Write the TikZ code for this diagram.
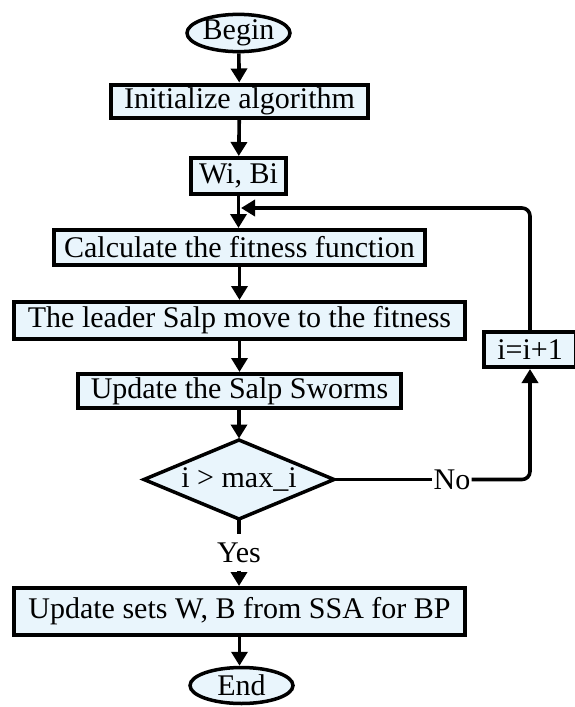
\documentclass[tikz,border=0pt]{standalone}
\usepackage{fontspec}
\setmainfont{Liberation Serif}
\usetikzlibrary{shapes.geometric,arrows.meta}
\definecolor{boxfill}{RGB}{233,245,252}

\begin{document}
\begin{tikzpicture}[x=1pt,y=-1pt,
  every node/.style={font=\fontsize{30}{36}\selectfont, inner sep=0pt},
  procbox/.style={draw, line width=4pt, fill=boxfill, rectangle},
  terminal/.style={draw, line width=3.5pt, fill=boxfill, ellipse, minimum width=103pt, minimum height=36pt},
  decision/.style={draw, line width=3.5pt, fill=boxfill, diamond, aspect=2.37, outer sep=0pt, minimum width=190pt, minimum height=79pt},
  tag/.style={fill=white, inner sep=1pt},
  flow/.style={line width=3.6pt},
  arr/.style={flow, -{Triangle[length=14pt,width=16pt]}}]
  \useasboundingbox (0,0) rectangle (574,707);

  % main column of steps
  \node[terminal] (begin) at (238.5,33) {Begin};
  \node[procbox, minimum width=257pt, minimum height=33pt] (init) at (239.5,101) {Initialize algorithm};
  \node[procbox, minimum width=95pt, minimum height=36pt] (wb) at (238.5,176) {Wi, Bi};
  \node[procbox, minimum width=371pt, minimum height=35pt] (calc) at (239.5,247.5) {Calculate the fitness function};
  \node[procbox, minimum width=451pt, minimum height=37pt] (lead) at (239.5,320.5) {The leader Salp move to the fitness};
  \node[procbox, minimum width=323pt, minimum height=34pt] (upd) at (239.5,391) {Update the Salp Sworms};
  \node[decision] (dec) at (239,479.5) {i > max\_i};
  \node[procbox, minimum width=451pt, minimum height=47pt] (fin) at (239.5,611.5) {Update sets W, B from SSA for BP};
  \node[terminal] (stop) at (241.5,685.5) {End};

  % loop counter on the right
  \node[procbox, minimum width=92pt, minimum height=35pt] (inc) at (530,349.5) {i=i+1};
  \node[tag] (no) at (452,479.5) {No};
  \node[tag, inner ysep=8pt] (yes) at (239,552.5) {Yes};
  \coordinate (merge) at (241,208);

  % straight flow
  \draw[arr] (begin) -- (init);
  \draw[arr] (init) -- (wb);
  \draw[arr] (wb.south) -- (wb.south |- calc.north);
  \draw[arr] (calc) -- (lead);
  \draw[arr] (lead) -- (upd);
  \draw[arr, shorten >=1.5pt] (upd.south -| dec.north) -- (dec.north);
  \draw[flow] (dec.south) -- (yes.north);
  \draw[arr] (yes.south) -- (yes.south |- fin.north);
  \draw[arr] (fin.south) -- (fin.south |- stop.north);

  % back edge of the loop
  \draw[flow] (dec.east) -- (no.west);
  \draw[arr, rounded corners=8pt] (no.east) -| (inc.south);
  \draw[arr, rounded corners=8pt] (inc.north) |- (merge);
\end{tikzpicture}
\end{document}
